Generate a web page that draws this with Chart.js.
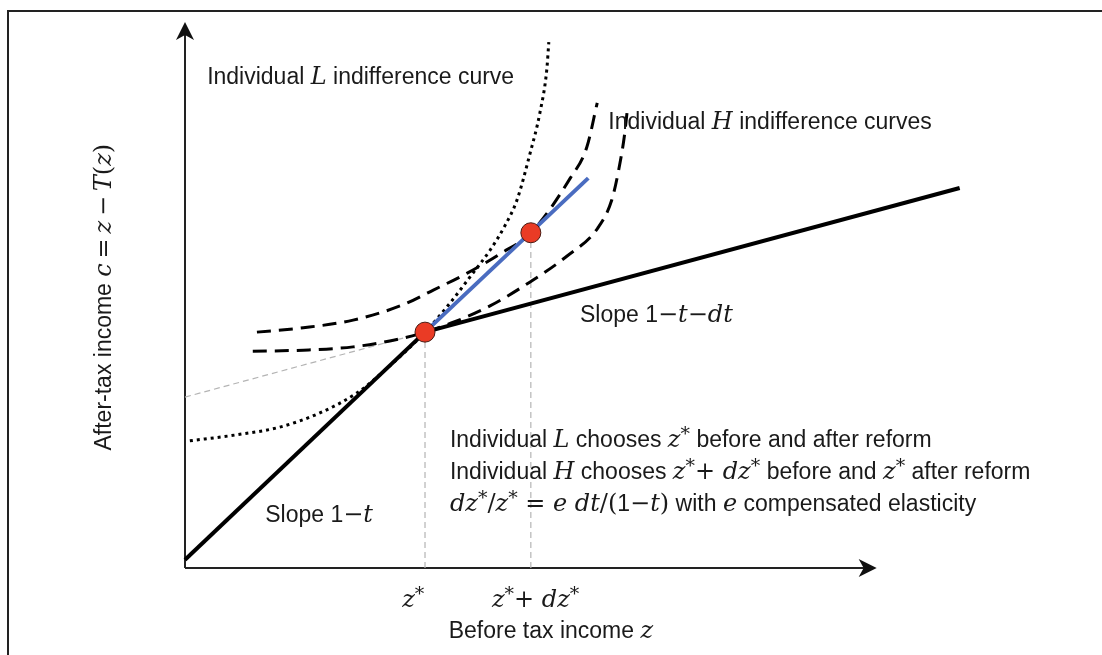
<!DOCTYPE html>
<html>
<head>
<meta charset="utf-8">
<script src="https://cdn.jsdelivr.net/npm/chart.js@4.4.1/dist/chart.umd.min.js"></script>
<style>
html, body { margin: 0; padding: 0; background: #fff; }
#wrap { position: relative; width: 1102px; height: 655px; overflow: hidden; }
#frame { position: absolute; left: 7px; top: 10px; width: 1300px; height: 900px; border-top: 2px solid #222; border-left: 2px solid #222; }
canvas { position: absolute; left: 0; top: 0; }
</style>
</head>
<body>
<div id="wrap"><div id="frame"></div><canvas id="bunching" width="1102" height="655"></canvas></div>
<script>
// z = before tax income, c = after tax income (arbitrary units)
const kinkPoint = [3.47, 4.32];     // z*
const highPoint = [5.0, 6.14];      // z* + dz*

// budget line before reform below the kink (slope 1-t)
const budgetLowZ = [0, 3.47];
const budgetLowC = [0.15, 4.32];
// budget line above the kink after reform (slope 1-t-dt)
const budgetHighZ = [3.47, 11.2];
const budgetHighC = [4.32, 6.96];
// old budget line (slope 1-t) extended past the kink
const oldBudgetZ = [3.47, 5.83];
const oldBudgetC = [4.32, 7.14];
// new slope extended back to the c axis
const extensionZ = [0, 3.47];
const extensionC = [3.13, 4.32];

// individual L indifference curve (dotted)
const curveLZ = [0.07, 0.75, 1.37, 1.95, 2.49, 2.86, 3.47, 3.83, 4.15, 4.41, 4.63, 4.80, 4.99, 5.13, 5.23, 5.26];
const curveLC = [2.33, 2.44, 2.58, 2.84, 3.21, 3.59, 4.32, 4.85, 5.38, 5.82, 6.28, 6.74, 7.60, 8.33, 9.12, 9.63];

// individual H indifference curves (dashed)
const curveH1Z = [1.04, 1.71, 2.43, 3.15, 3.59, 4.08, 4.55, 5.0, 5.57, 5.81, 5.96];
const curveH1C = [4.32, 4.40, 4.54, 4.82, 5.09, 5.40, 5.75, 6.14, 7.14, 7.71, 8.52];
const curveH2Z = [0.98, 1.71, 2.43, 3.15, 3.47, 3.90, 4.41, 4.99, 5.52, 5.97, 6.17, 6.27, 6.35, 6.39];
const curveH2C = [3.97, 3.99, 4.05, 4.21, 4.32, 4.51, 4.80, 5.24, 5.71, 6.23, 6.74, 7.29, 7.89, 8.33];

const axisMax = [10, 10];

function toXY(zs, cs) {
    return zs.map((z, i) => ({ x: z, y: cs[i] }));
}

const FONTS = {
    s: '23px "Liberation Sans", Arial, sans-serif',
    i: 'italic 24px "DejaVu Serif", "Liberation Serif", serif',
    r: '24px "DejaVu Serif", "Liberation Serif", serif',
    p: '19px "DejaVu Serif", "Liberation Serif", serif'
};

const star = ['*', 'p'];

// text annotations, anchored in data units
const notes = [
    { z: 0.32, c: 8.86, align: 'left', runs: [['Individual ', 's'], ['L', 'i'], [' indifference curve', 's']] },
    { z: 6.12, c: 8.04, align: 'left', runs: [['Individual ', 's'], ['H', 'i'], [' indifference curves', 's']] },
    { z: 5.71, c: 4.51, align: 'left', runs: [['Slope 1', 's'], ['\u2212', 'r'], ['t', 'i'], ['\u2212', 'r'], ['dt', 'i']] },
    { z: 1.16, c: 0.84, align: 'left', runs: [['Slope 1', 's'], ['\u2212', 'r'], ['t', 'i']] },
    { z: 3.83, c: 2.22, align: 'left', runs: [['Individual ', 's'], ['L', 'i'], [' chooses ', 's'], ['z', 'i'], star, [' before and after reform', 's']] },
    { z: 3.83, c: 1.63, align: 'left', runs: [['Individual ', 's'], ['H', 'i'], [' chooses ', 's'], ['z', 'i'], star, ['+ ', 'r'], ['dz', 'i'], star, [' before and ', 's'], ['z', 'i'], star, [' after reform', 's']] },
    { z: 3.83, c: 1.04, align: 'left', runs: [['dz', 'i'], star, ['/', 'r'], ['z', 'i'], star, [' = ', 'r'], ['e', 'i'], [' ', 'r'], ['dt', 'i'], ['/(', 'r'], ['1', 's'], ['\u2212', 'r'], ['t', 'i'], [')', 'r'], [' with ', 's'], ['e', 'i'], [' compensated elasticity', 's']] },
    { z: 3.30, c: -0.71, align: 'center', runs: [['z', 'i'], star] },
    { z: 5.07, c: -0.71, align: 'center', runs: [['z', 'i'], star, ['+ ', 'r'], ['dz', 'i'], star] },
    { z: 5.29, c: -1.28, align: 'center', runs: [['Before tax income ', 's'], ['z', 'i']] }
];
const yTitle = [['After-tax income ', 's'], ['c', 'i'], ['\u2009=\u2009', 'r'], ['z', 'i'], ['\u2009\u2212\u2009', 'r'], ['T', 'i'], ['(', 'r'], ['z', 'i'], [')', 'r']];

function drawRuns(ctx, runs, x, y, align) {
    let total = 0;
    runs.forEach(([t, f]) => { ctx.font = FONTS[f]; total += ctx.measureText(t).width; });
    let cx = align === 'center' ? x - total / 2 : x;
    runs.forEach(([t, f]) => {
        ctx.font = FONTS[f];
        ctx.fillText(t, cx, f === 'p' ? y - 7 : y);
        cx += ctx.measureText(t).width;
    });
}

function arrowHead(ctx, x, y, angle) {
    ctx.save();
    ctx.translate(x, y);
    ctx.rotate(angle);
    ctx.beginPath();
    ctx.moveTo(0, 0);
    ctx.lineTo(-18, -9);
    ctx.lineTo(-13, 0);
    ctx.lineTo(-18, 9);
    ctx.closePath();
    ctx.fill();
    ctx.restore();
}

const figurePlugin = {
    id: 'figureText',
    beforeDatasetsDraw(chart) {
        const ctx = chart.ctx;
        const xs = chart.scales.x, ys = chart.scales.y;
        const x0 = xs.getPixelForValue(0), y0 = ys.getPixelForValue(0);
        const xEnd = xs.getPixelForValue(axisMax[0]), yEnd = ys.getPixelForValue(axisMax[1]);
        ctx.save();
        ctx.strokeStyle = '#222';
        ctx.fillStyle = '#111';
        ctx.lineWidth = 2;
        ctx.beginPath();
        ctx.moveTo(x0, y0);
        ctx.lineTo(xEnd - 10, y0);
        ctx.moveTo(x0, y0);
        ctx.lineTo(x0, yEnd + 10);
        ctx.stroke();
        arrowHead(ctx, xEnd, y0, 0);
        arrowHead(ctx, x0, yEnd, -Math.PI / 2);
        ctx.restore();
    },
    afterDatasetsDraw(chart) {
        const ctx = chart.ctx;
        const xs = chart.scales.x, ys = chart.scales.y;
        ctx.save();
        ctx.fillStyle = '#1a1a1a';
        ctx.textBaseline = 'alphabetic';
        notes.forEach(n => {
            drawRuns(ctx, n.runs, xs.getPixelForValue(n.z), ys.getPixelForValue(n.c), n.align);
        });
        ctx.translate(xs.getPixelForValue(-1.07), ys.getPixelForValue(4.96));
        ctx.rotate(-Math.PI / 2);
        drawRuns(ctx, yTitle, 0, 0, 'center');
        ctx.restore();
    }
};

const guide = { borderColor: '#b4b4b4', borderWidth: 1.2, borderDash: [6, 4], pointRadius: 0, showLine: true, clip: false };

new Chart(document.getElementById('bunching'), {
    type: 'scatter',
    data: {
        datasets: [
            { label: 'choices', data: [{ x: kinkPoint[0], y: kinkPoint[1] }, { x: highPoint[0], y: highPoint[1] }],
              pointRadius: 10, pointBackgroundColor: '#ea3b25', pointBorderColor: '#4a1a12', pointBorderWidth: 1, order: 0, clip: false },
            { label: 'old slope', data: toXY(oldBudgetZ, oldBudgetC), showLine: true, borderColor: '#4a6cc0', borderWidth: 4, pointRadius: 0, order: 1, clip: false },
            { label: 'budget low', data: toXY(budgetLowZ, budgetLowC), showLine: true, borderColor: '#000', borderWidth: 4, pointRadius: 0, order: 2, clip: false },
            { label: 'budget high', data: toXY(budgetHighZ, budgetHighC), showLine: true, borderColor: '#000', borderWidth: 4, pointRadius: 0, order: 2, clip: false },
            { label: 'L curve', data: toXY(curveLZ, curveLC), showLine: true, borderColor: '#000', borderWidth: 3, borderDash: [3, 4],
              cubicInterpolationMode: 'monotone', pointRadius: 0, order: 3, clip: false },
            { label: 'H curve 1', data: toXY(curveH1Z, curveH1C), showLine: true, borderColor: '#000', borderWidth: 3, borderDash: [14, 8],
              cubicInterpolationMode: 'monotone', pointRadius: 0, order: 3, clip: false },
            { label: 'H curve 2', data: toXY(curveH2Z, curveH2C), showLine: true, borderColor: '#000', borderWidth: 3, borderDash: [14, 8],
              cubicInterpolationMode: 'monotone', pointRadius: 0, order: 3, clip: false },
            Object.assign({ label: 'extension', data: toXY(extensionZ, extensionC), order: 4 }, guide),
            Object.assign({ label: 'z* guide', data: toXY([kinkPoint[0], kinkPoint[0]], [0, kinkPoint[1]]), order: 4 }, guide),
            Object.assign({ label: 'dz guide', data: toXY([highPoint[0], highPoint[0]], [0, highPoint[1]]), order: 4 }, guide)
        ]
    },
    options: {
        responsive: false,
        animation: false,
        layout: { padding: { left: 185, right: 87, top: 22, bottom: 87 } },
        scales: {
            x: { type: 'linear', min: 0, max: 12, display: false },
            y: { type: 'linear', min: 0, max: 10, display: false }
        },
        plugins: { legend: { display: false }, tooltip: { enabled: false } }
    },
    plugins: [figurePlugin]
});
</script>
</body>
</html>
